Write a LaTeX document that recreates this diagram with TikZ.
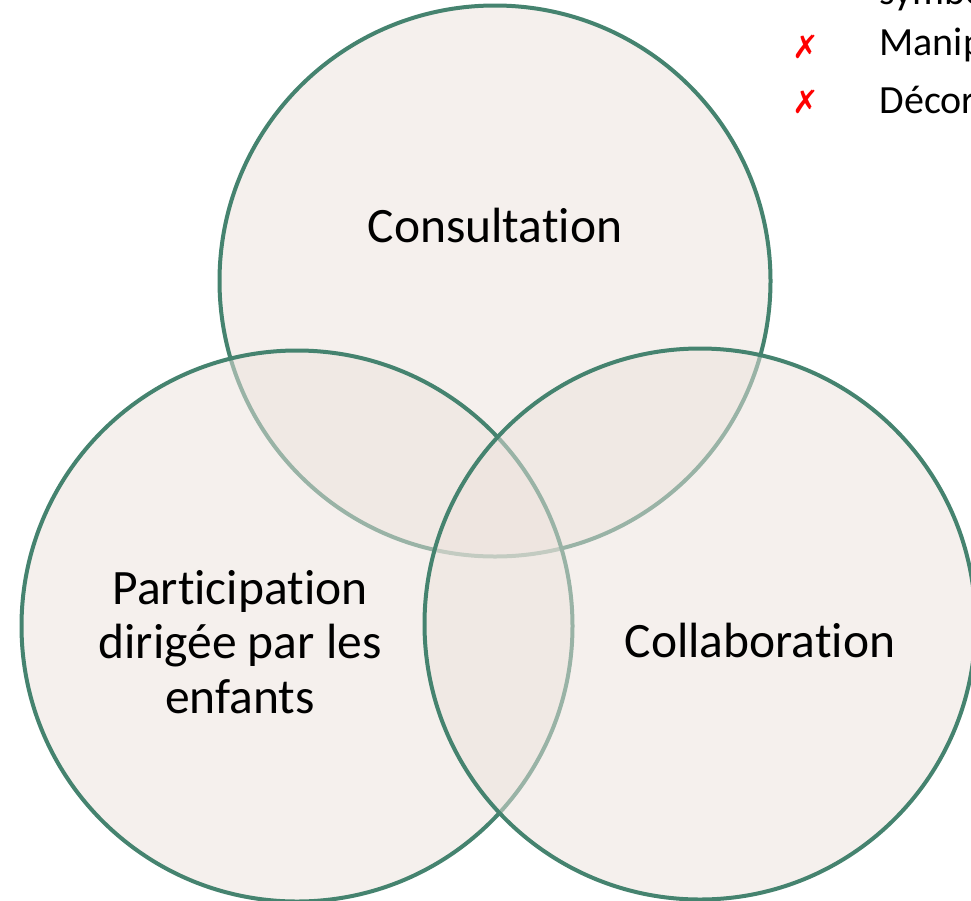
\documentclass[tikz,border=0pt]{standalone}
\usepackage{fontspec}
\setmainfont[Ligatures=NoCommon]{Carlito}
\newfontfamily\symfont{DejaVu Sans}
\definecolor{ringgreen}{HTML}{45836F}
\definecolor{ringfill}{HTML}{EDE3DD}
\tikzset{
  venn/.style={circle, draw=ringgreen, line width=4pt, fill=ringfill,
    fill opacity=0.5, minimum size=551pt, inner sep=0pt},
  label/.style={align=center, font=\fontsize{49.5}{54.5}\selectfont},
  listitem/.style={anchor=west, font=\fontsize{40}{48}\selectfont},
  cross/.style={text=red, font=\symfont\fontsize{32}{36}\selectfont}
}
\begin{document}
\begin{tikzpicture}[x=1pt, y=-1pt]
    \useasboundingbox (0,0) rectangle (971,900);
    \clip (0,0) rectangle (971,900);
    \fill[white] (0,0) rectangle (971,900);
    % the three rings, drawn top, left, right
    \node[venn] (top) at (495,281) {};
    \node[venn] (left) at (297,626) {};
    \node[venn] (right) at (700,624) {};
    \node[label] (consultation) at (495,225) {Consultation};
    \node[label] (children) at (240,642) {Participation\\dirigée par les\\enfants};
    \node[label] (collaboration) at (760,640) {Collaboration};
    % list in the corner
    \node[listitem] (symb) at (876,-6) {symbolique};
    \node[listitem] (manip) at (876,45) {Manipulation};
    \node[listitem] (decor) at (876,100) {Décoration};
    \node[cross] (crossa) at (806,47) {✗};
    \node[cross] (crossb) at (806,102) {✗};
\end{tikzpicture}
\end{document}
